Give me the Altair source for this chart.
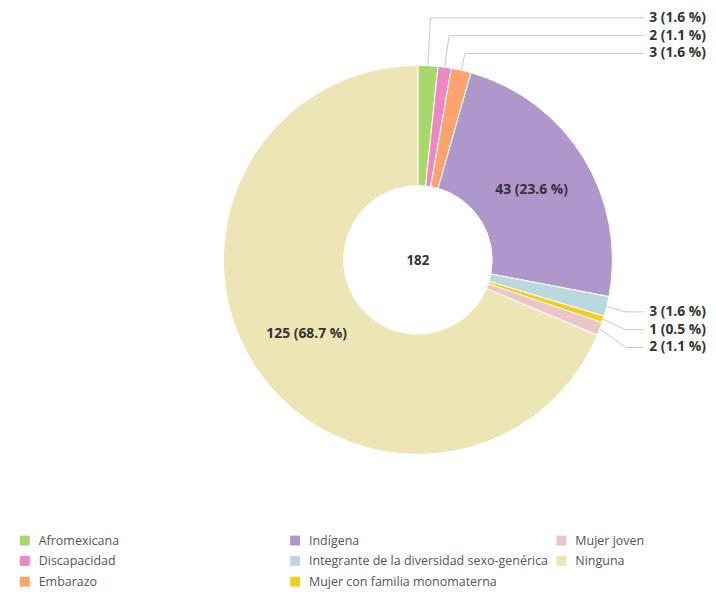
import altair as alt
import pandas as pd
import numpy as np

# ---------------- data ----------------
categories = [
    "Afromexicana",
    "Discapacidad",
    "Embarazo",
    "Indígena",
    "Integrante de la diversidad sexo-genérica",
    "Mujer con familia monomaterna",
    "Mujer joven",
    "Ninguna",
]
values = [3, 2, 3, 43, 3, 1, 2, 125]
colors = ["#A6D86B", "#EE88C3", "#FDA36F", "#AF97CC", "#B9D8DF", "#F2CF1D", "#EEC5C6", "#EEE5B6"]

# ---------------- layout ----------------
W, H = 707, 583
CX, CY = 414, 251.5
R_OUT, R_IN = 196.5, 75
R_TEXT = 135
INSIDE_MIN_PCT = 5
TOP_LABEL_Y0, RIGHT_LABEL_Y0, LABEL_STEP = 7, 304, 18.0
RIGHT_ELBOW_X, LINE_END_X, LABEL_X = 624, 642, 705
LEG_COL_X = [17, 290, 559]
LEG_ROW_Y = [535, 555.5, 576.5]
FONT = "Open Sans"

total = sum(values)
df = pd.DataFrame({"cat": categories, "value": values, "idx": range(len(values))})
df["pct"] = df["value"] / total * 100
df["label"] = [f"{v} ({p:.1f} %)" for v, p in zip(df["value"], df["pct"])]
df["inner"] = [l if p >= INSIDE_MIN_PCT else "" for l, p in zip(df["label"], df["pct"])]

# angles of slice midpoints (clockwise from 12 o'clock)
cum = np.cumsum(values)
mid = (cum - np.array(values) / 2) / total * 2 * np.pi
df["mid"] = mid

# leader lines for the small slices
small = df[df["pct"] < INSIDE_MIN_PCT].copy()
line_rows, lab_rows = [], []
top_i, right_i = 0, 0
for _, r in small.iterrows():
    th = r["mid"]
    sx = CX + R_OUT * np.sin(th)
    sy = CY - R_OUT * np.cos(th)
    if th < np.pi / 4:
        ly = TOP_LABEL_Y0 + top_i * LABEL_STEP
        top_i += 1
        ex = CX + (CY - ly) * np.tan(th)
    else:
        ly = RIGHT_LABEL_Y0 + right_i * LABEL_STEP
        right_i += 1
        ex = RIGHT_ELBOW_X
    for k, (px, py) in enumerate([(sx, sy), (ex, ly), (LINE_END_X, ly)]):
        line_rows.append({"cat": r["cat"], "pt": k, "x": px, "y": py})
    lab_rows.append({"cat": r["cat"], "x": LABEL_X, "y": ly, "label": r["label"]})
lines_df = pd.DataFrame(line_rows)
labs_df = pd.DataFrame(lab_rows)

# legend table (column-major, 3 rows)
leg_df = pd.DataFrame({
    "cat": categories,
    "x": [LEG_COL_X[i // 3] for i in range(len(categories))],
    "y": [LEG_ROW_Y[i % 3] for i in range(len(categories))],
})

xs = alt.Scale(domain=[0, W], nice=False, zero=False)
ys = alt.Scale(domain=[0, H], nice=False, zero=False, reverse=True)
color = alt.Color("cat:N", scale=alt.Scale(domain=categories, range=colors), legend=None)

base = alt.Chart(df)
arcs = base.mark_arc(innerRadius=R_IN, outerRadius=R_OUT, stroke="white", strokeWidth=1).encode(
    theta=alt.Theta("value:Q", stack=True),
    color=color,
    order=alt.Order("idx:Q", sort="ascending"),
    x=alt.value(CX),
    y=alt.value(CY),
)
inner_text = base.mark_text(radius=R_TEXT, font=FONT, fontSize=14, fontWeight="bold", color="#333333").encode(
    theta=alt.Theta("value:Q", stack=True),
    order=alt.Order("idx:Q", sort="ascending"),
    text="inner:N",
    x=alt.value(CX),
    y=alt.value(CY),
)
center = alt.Chart(pd.DataFrame({"t": [str(total)]})).mark_text(
    font=FONT, fontSize=13.5, fontWeight="bold", color="#333333"
).encode(text="t:N", x=alt.value(CX), y=alt.value(CY + 1))

leaders = alt.Chart(lines_df).mark_line(color="#C3CAD8", strokeWidth=1).encode(
    x=alt.X("x:Q", scale=xs, axis=None),
    y=alt.Y("y:Q", scale=ys, axis=None),
    detail="cat:N",
    order="pt:Q",
)
out_labels = alt.Chart(labs_df).mark_text(
    align="right", baseline="middle", font=FONT, fontSize=14, fontWeight="bold", color="#333333"
).encode(x=alt.X("x:Q", scale=xs, axis=None), y=alt.Y("y:Q", scale=ys, axis=None), text="label:N")

leg_sym = alt.Chart(leg_df).mark_square(size=100, opacity=1).encode(
    x=alt.X("x:Q", scale=xs, axis=None), y=alt.Y("y:Q", scale=ys, axis=None), color=color
)
leg_txt = alt.Chart(leg_df).mark_text(
    align="left", baseline="middle", dx=14, font=FONT, fontSize=12.6, color="#555555"
).encode(x=alt.X("x:Q", scale=xs, axis=None), y=alt.Y("y:Q", scale=ys, axis=None), text="cat:N")

chart = alt.layer(arcs, inner_text, center, leaders, out_labels, leg_sym, leg_txt).properties(
    width=W, height=H, padding=0, autosize=alt.AutoSizeParams(type="none")
).configure_view(stroke=None)

chart.save("out.html", embed_options={"renderer": "svg", "actions": False})
